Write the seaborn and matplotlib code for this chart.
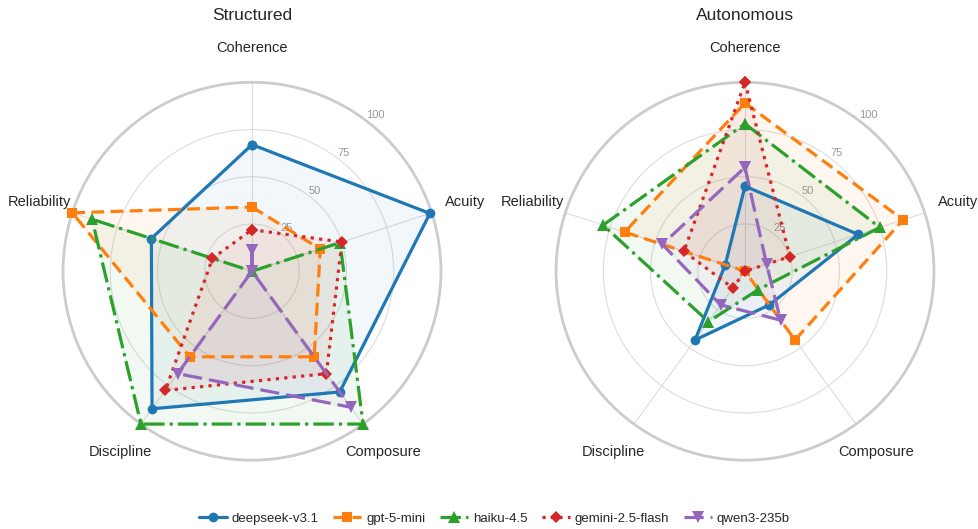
import numpy as np
import pandas as pd
import matplotlib
matplotlib.use("Agg")
import matplotlib.pyplot as plt
import seaborn as sns
from matplotlib.lines import Line2D

dimensions = ["Coherence", "Acuity", "Composure", "Discipline", "Reliability"]
models = ["deepseek-v3.1", "gpt-5-mini", "haiku-4.5", "gemini-2.5-flash", "qwen3-235b"]

structured_deepseek = [67, 99, 79, 90, 56]
structured_gpt = [34, 38, 56, 56, 100]
structured_haiku = [0, 49, 100, 100, 89]
structured_gemini = [22, 50, 67, 78, 22]
structured_qwen = [11, 0, 89, 67, 0]

autonomous_deepseek = [45, 63, 22, 45, 11]
autonomous_gpt = [89, 88, 45, 0, 67]
autonomous_haiku = [78, 75, 12, 33, 79]
autonomous_gemini = [100, 25, 0, 11, 34]
autonomous_qwen = [55, 12, 32, 22, 46]

radial_ticks = [25, 50, 75, 100]
panel_titles = ["Structured", "Autonomous"]

panels = {
    "Structured": [structured_deepseek, structured_gpt, structured_haiku,
                   structured_gemini, structured_qwen],
    "Autonomous": [autonomous_deepseek, autonomous_gpt, autonomous_haiku,
                   autonomous_gemini, autonomous_qwen],
}

colors = ["#1f77b4", "#ff7f0e", "#2ca02c", "#d62728", "#9467bd"]
markers = ["o", "s", "^", "D", "v"]
dashes = ["", (4, 2), (6.4, 1.6, 1, 1.6), (1, 1.65), (6, 2.2)]
msizes = [7, 7, 8, 6.5, 8]

sns.set_theme(style="whitegrid")
plt.rcParams["font.family"] = ["Liberation Sans", "DejaVu Sans"]

fig = plt.figure(figsize=(9.79, 5.29), dpi=100)
positions = [[0.0644, 0.130, 0.386, 0.7146], [0.568, 0.130, 0.386, 0.7146]]

n = len(dimensions)
angles = np.linspace(0, 2 * np.pi, n, endpoint=False)

for pos, title in zip(positions, panel_titles):
    ax = fig.add_axes(pos, projection="polar")
    ax.set_theta_offset(np.pi / 2)
    ax.set_theta_direction(-1)
    rows = []
    for m, vals in zip(models, panels[title]):
        closed = list(vals) + [vals[0]]
        th = list(angles) + [angles[0]]
        for i, (t, v) in enumerate(zip(th, closed)):
            rows.append({"model": m, "order": i, "theta": t, "value": v})
    df = pd.DataFrame(rows)
    for k, m in enumerate(models):
        sub = df[df["model"] == m]
        ax.fill(sub["theta"], sub["value"], color=colors[k], alpha=0.06, zorder=1)
    for k, m in enumerate(models):
        sub = df[df["model"] == m]
        sns.lineplot(data=sub, x="theta", y="value", ax=ax, sort=False,
                     estimator=None, color=colors[k], lw=2.3,
                     marker=markers[k], markersize=msizes[k],
                     markeredgewidth=0,
                     legend=False, clip_on=False, zorder=3 + k)
        if dashes[k]:
            ax.lines[-1].set_dashes(dashes[k])
    ax.set_ylim(0, 100)
    ax.set_xticks(angles)
    ax.set_xticklabels(dimensions, fontsize=10.5, color="#262626")
    ax.tick_params(axis="x", pad=12)
    ax.set_yticks(radial_ticks)
    ax.set_yticklabels([str(t) for t in radial_ticks], fontsize=8, color="#999999")
    ax.set_rlabel_position(37)
    ax.set_xlabel("")
    ax.set_ylabel("")
    ax.grid(color="#dddddd", linewidth=0.8)
    ax.spines["polar"].set_color("#cccccc")
    ax.spines["polar"].set_linewidth(2)
    ax.set_facecolor("white")
    ax.set_title(title, fontsize=12.5, pad=45, color="#262626")

handles = [Line2D([0], [0], color=colors[k], lw=2.3, marker=markers[k],
                  markersize=msizes[k], markeredgewidth=0,
                  linestyle="-" if not dashes[k] else (0, dashes[k]))
           for k in range(len(models))]
fig.legend(handles, models, loc="lower center", ncol=5, frameon=False,
           fontsize=9.5, bbox_to_anchor=(0.505, -0.014), handlelength=2.1,
           handletextpad=0.4, columnspacing=1.1)

fig.savefig("out.png", dpi=100)
